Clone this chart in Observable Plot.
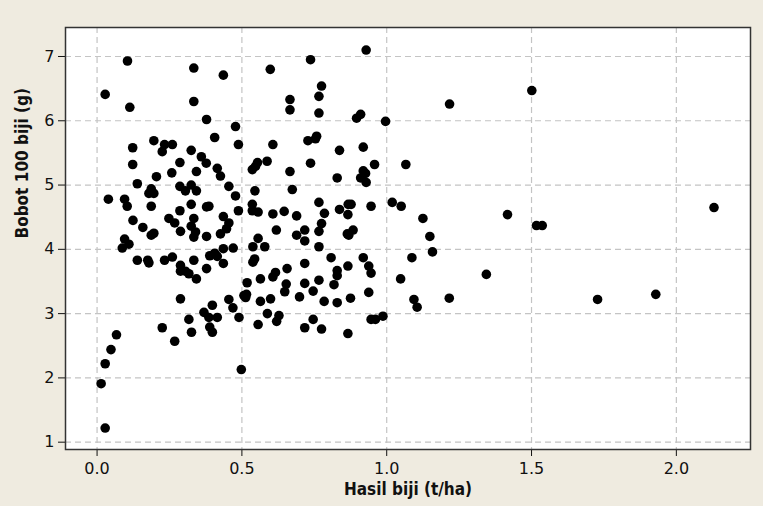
<!DOCTYPE html>
<html>
<head>
<meta charset="utf-8">
<script src="https://cdn.jsdelivr.net/npm/d3@7"></script>
<script src="https://cdn.jsdelivr.net/npm/@observablehq/plot@0.6"></script>
<style>
  html, body { margin: 0; padding: 0; background: #efebe0; }
  #chart { width: 763px; height: 506px; }
</style>
</head>
<body>
<div id="chart"></div>
<script>
// Hasil biji (t/ha)
const hasil = [
  0.105,0.028,0.113,0.334,0.436,0.334,0.378,0.478,0.488,0.406,
  0.598,0.737,0.929,0.775,0.766,0.666,0.666,0.766,0.896,0.910,
  0.996,1.217,1.501,0.123,0.123,0.196,0.233,0.260,0.225,0.325,
  0.360,0.377,0.286,0.415,0.426,0.343,0.258,0.205,0.139,0.286,
  0.325,0.305,0.343,0.455,0.478,0.187,0.179,0.196,0.039,0.095,
  0.104,0.187,0.325,0.378,0.386,0.488,0.286,0.124,0.158,0.187,
  0.196,0.248,0.268,0.288,0.334,0.325,0.340,0.334,0.378,0.436,
  0.455,0.447,0.426,0.095,0.087,0.110,0.470,0.436,0.406,0.415,
  0.389,0.139,0.175,0.179,0.233,0.260,0.334,0.436,0.288,0.288,
  0.305,0.317,0.378,0.343,0.288,0.225,0.268,0.317,0.326,0.369,
  0.398,0.386,0.415,0.389,0.398,0.455,0.469,0.490,0.067,0.048,
  0.028,0.014,0.028,0.498,
  0.536,0.545,0.536,0.556,0.607,0.646,0.619,0.689,0.689,0.556,
  0.538,0.579,0.544,0.538,0.564,0.616,0.607,0.656,0.518,0.507,
  0.513,0.516,0.564,0.599,0.648,0.653,0.699,0.588,0.556,0.628,
  0.620,0.717,0.717,0.717,0.717,0.746,0.766,0.784,0.746,0.717,
  0.775,0.766,0.766,0.775,0.785,0.766,0.808,0.818,0.829,0.829,
  0.829,0.837,0.866,0.867,0.877,0.864,0.869,0.884,0.866,0.875,
  0.866,0.919,0.938,0.946,0.938,0.946,0.961,0.987,0.946,0.829,
  0.837,0.728,0.754,0.758,0.737,0.666,0.674,0.607,0.587,0.554,
  0.547,0.536,0.919,0.919,0.927,0.910,0.929,0.958,1.066,1.019,
  1.050,1.125,1.149,1.158,1.087,1.048,1.094,1.105,1.216,1.344,
  1.417,1.517,1.537,1.728,1.929,2.130
];
// Bobot 100 biji (g)
const bobot = [
  6.93,6.41,6.21,6.82,6.71,6.30,6.02,5.91,5.63,5.74,
  6.80,6.95,7.10,6.54,6.38,6.33,6.17,6.12,6.04,6.10,
  5.99,6.26,6.47,5.58,5.32,5.69,5.63,5.63,5.52,5.54,
  5.44,5.34,5.35,5.26,5.14,5.21,5.19,5.13,5.02,4.98,
  5.00,4.91,4.91,4.98,4.83,4.94,4.87,4.87,4.78,4.78,
  4.67,4.67,4.70,4.66,4.67,4.60,4.60,4.45,4.34,4.22,
  4.25,4.48,4.41,4.28,4.48,4.36,4.27,4.19,4.20,4.51,
  4.41,4.32,4.24,4.16,4.02,4.08,4.02,4.01,3.94,3.89,
  3.90,3.83,3.83,3.79,3.83,3.88,3.83,3.78,3.75,3.66,
  3.66,3.62,3.70,3.54,3.23,2.78,2.57,2.91,2.71,3.02,
  3.13,2.94,2.94,2.79,2.71,3.22,3.09,2.94,2.67,2.44,
  2.22,1.91,1.22,2.13,
  4.70,4.91,4.60,4.58,4.55,4.59,4.30,4.52,4.22,4.17,
  4.04,4.04,3.85,3.80,3.54,3.64,3.57,3.70,3.48,3.28,
  3.25,3.30,3.19,3.23,3.34,3.46,3.26,3.00,2.83,2.97,
  2.88,4.13,4.30,3.78,3.47,3.35,3.52,3.19,2.91,2.78,
  2.76,4.04,4.28,4.40,4.56,4.73,3.87,3.45,3.59,3.67,
  3.17,4.62,4.54,4.70,4.70,4.24,4.22,4.30,3.74,3.24,
  2.69,3.87,3.74,3.63,3.33,2.91,2.91,2.96,4.67,5.11,
  5.54,5.69,5.72,5.76,5.34,5.21,4.93,5.63,5.37,5.35,
  5.29,5.24,5.59,5.22,5.18,5.11,5.04,5.32,5.32,4.73,
  4.67,4.48,4.20,3.96,3.87,3.54,3.22,3.10,3.24,3.61,
  4.54,4.37,4.37,3.22,3.30,4.65
];
const xTicks = [0, 0.5, 1.0, 1.5, 2.0];
const yTicks = [1, 2, 3, 4, 5, 6, 7];
const xLabel = "Hasil biji (t/ha)";
const yLabel = "Bobot 100 biji (g)";

const points = hasil.map((h, i) => ({x: h, y: bobot[i]}));

const chart = Plot.plot({
  width: 763,
  height: 506,
  marginLeft: 65,
  marginRight: 13,
  marginTop: 27,
  marginBottom: 57,
  style: {
    background: "#efebe0",
    fontFamily: "'DejaVu Sans', sans-serif",
    fontSize: "16px",
    color: "#111"
  },
  x: {
    domain: [-0.109, 2.256],
    ticks: xTicks,
    tickFormat: d3.format(".1f"),
    tickSize: 7,
    tickPadding: 6,
    label: null
  },
  y: {
    domain: [0.886, 7.451],
    ticks: yTicks,
    tickFormat: d3.format("d"),
    tickSize: 7,
    tickPadding: 4,
    label: null
  },
  marks: [
    Plot.frame({fill: "white", stroke: "none"}),
    Plot.ruleX(xTicks, {stroke: "#c4c4c4", strokeWidth: 1.2, strokeDasharray: "6,4"}),
    Plot.ruleY(yTicks, {stroke: "#c4c4c4", strokeWidth: 1.2, strokeDasharray: "6,4"}),
    Plot.dot(points, {x: "x", y: "y", r: 4.8, fill: "black", stroke: "none"}),
    Plot.frame({stroke: "#333", strokeWidth: 1.5}),
    Plot.text([xLabel], {frameAnchor: "bottom", dy: 45, fontWeight: "bold", fontSize: 17,
      fontFamily: "'DejaVu Sans Condensed', 'DejaVu Sans', sans-serif", fill: "#111"}),
    Plot.text([yLabel], {frameAnchor: "left", dx: -43, rotate: -90, fontWeight: "bold", fontSize: 17,
      fontFamily: "'DejaVu Sans Condensed', 'DejaVu Sans', sans-serif", fill: "#111"})
  ]
});
document.getElementById("chart").appendChild(chart);
</script>
</body>
</html>
